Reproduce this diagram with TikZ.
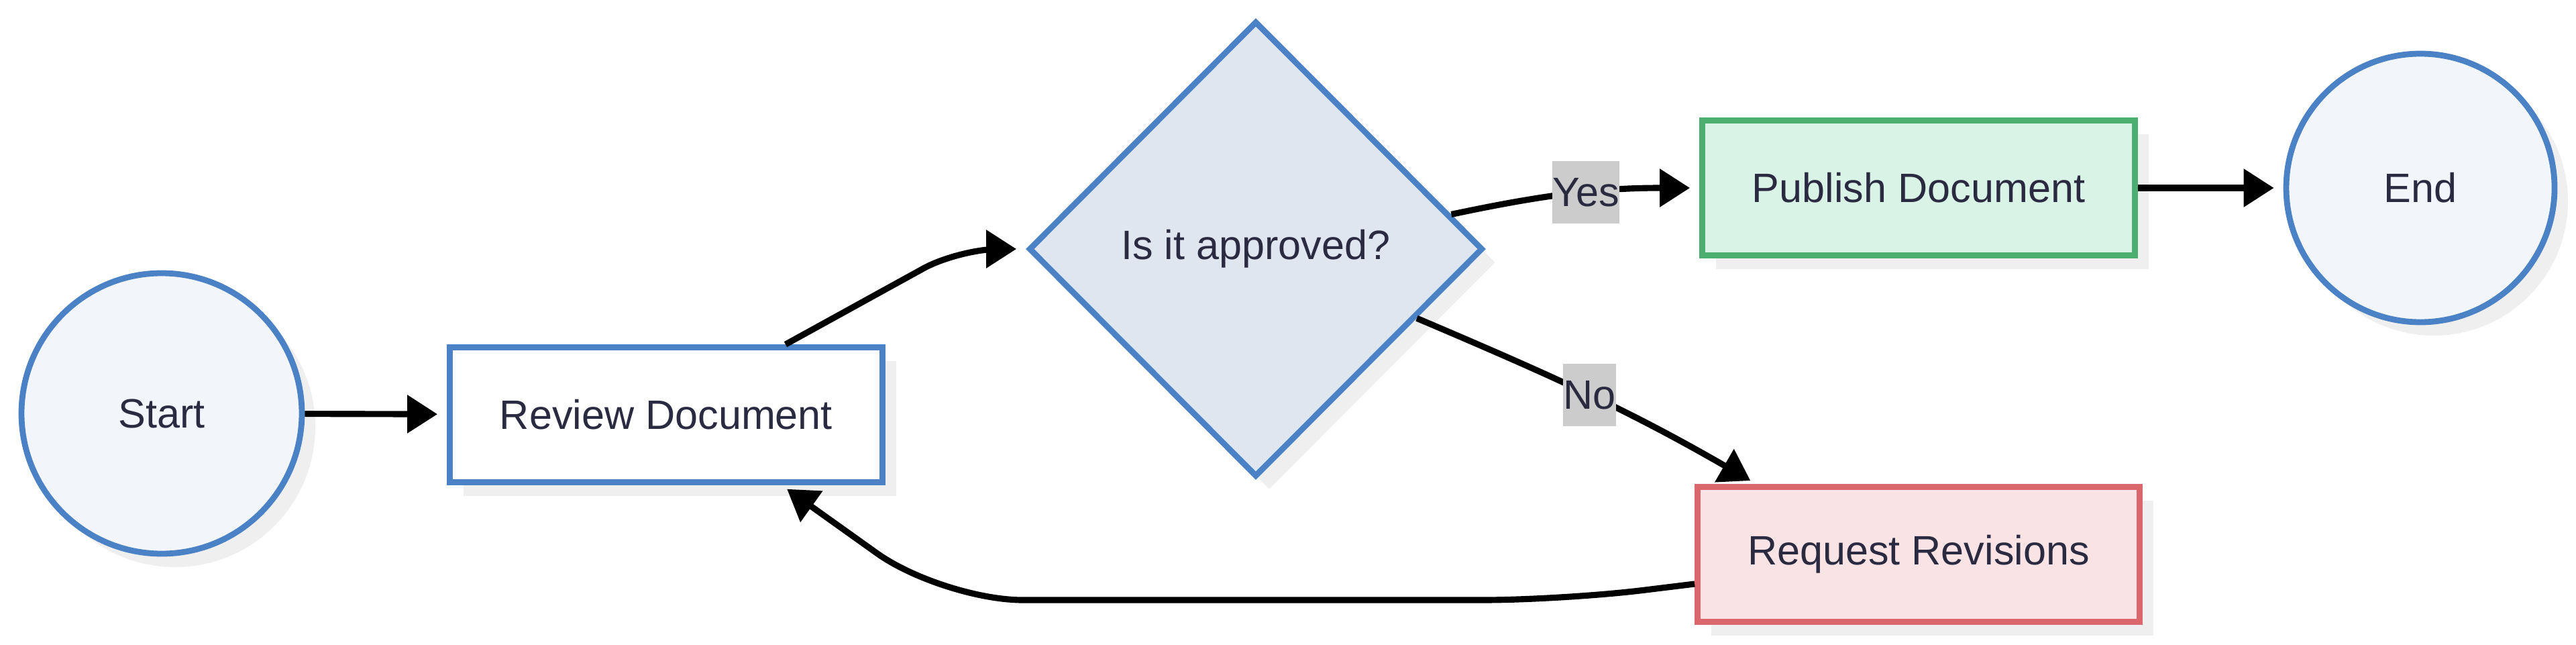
\documentclass[tikz,border=0pt]{standalone}
\usepackage{fontspec}
\setmainfont{Liberation Sans}
\usepackage{tikz}
\usetikzlibrary{arrows.meta,positioning,calc,shapes.geometric,shadows}
\usepackage{xcolor}
\definecolor{finkline}{HTML}{2A2A40}
\definecolor{fblue}{HTML}{4A82C5}
\definecolor{fstartbg}{HTML}{F2F6FB}
\definecolor{fdecbg}{HTML}{DFE6EF}
\definecolor{fgreen}{HTML}{4CAF6F}
\definecolor{fgreenbg}{HTML}{D9F3E6}
\definecolor{fred}{HTML}{D9676B}
\definecolor{fredbg}{HTML}{FAE3E5}
\definecolor{fshadow}{HTML}{EFEFEF}
\definecolor{flblbg}{HTML}{CCCCCC}

\begin{document}
\begin{tikzpicture}[x=1cm, y=1cm,
  font=\fontsize{17.4}{20}\selectfont, text=finkline,
  shade box/.style={drop shadow={shadow xshift=0.2cm, shadow yshift=-0.2cm,
      fill=fshadow, opacity=1}},
  terminal/.style={circle, draw=fblue, line width=2.5pt, fill=fstartbg,
      minimum size=#1, inner sep=0pt, shade box},
  procbox/.style={rectangle, line width=2.5pt, minimum width=6.45cm,
      minimum height=2.01cm, inner sep=0pt, shade box},
  flow/.style={line width=2.6pt, draw=black,
      -{Triangle[length=0.45cm, width=0.55cm]}, shorten >=0.14cm},
  lbl/.style={fill=flblbg, inner xsep=0pt, inner ysep=0pt,
      minimum height=0.93cm, text=finkline}]
\useasboundingbox (0,0) rectangle (38.4,9.6);
% ---- nodes ----
\node[terminal=4.18cm] (start) at (2.41,3.44) {Start};
\node[procbox, draw=fblue, fill=white] (review) at (9.93,3.42) {Review Document};
\node[diamond, draw=fblue, line width=2.5pt, fill=fdecbg, aspect=1, inner sep=0pt,
      minimum width=6.77cm, minimum height=6.79cm, shade box]
      (decision) at (18.72,5.89) {Is it approved?};
\node[procbox, draw=fgreen, fill=fgreenbg] (publish) at (28.60,6.80) {Publish Document};
\node[procbox, draw=fred, fill=fredbg, minimum width=6.59cm] (request) at (28.60,1.34) {Request Revisions};
\node[terminal=4.0cm] (end) at (36.08,6.80) {End};
% ---- main line ----
\draw[flow] (start) -- (review);
\draw[flow, rounded corners=0.6cm] ([xshift=1.78cm]review.north)
   -- ([xshift=-1.0cm]decision.west) -- (decision.west);
\draw[flow] ($(decision.north)!0.85!(decision.east)$) to[out=12, in=180]
   node[lbl, pos=0.55] (yes) {Yes} (publish.west);
\draw[flow] (publish) -- (end);
% ---- rejection branch and loop back ----
\draw[flow, shorten >=0.1cm] ($(decision.east)!0.3!(decision.south)$) to[out=-23, in=150]
   node[lbl, pos=0.5] (no) {No} ([xshift=-2.42cm]request.north);
\coordinate (loopR) at (23.30,0.66);
\coordinate (loopL) at (14.05,0.66);
\draw[flow, rounded corners=1.2cm, shorten >=0.1cm] ([yshift=-0.44cm]request.west)
   -- (loopR) -- (loopL) -- ([xshift=1.72cm]review.south);
\end{tikzpicture}
\end{document}
